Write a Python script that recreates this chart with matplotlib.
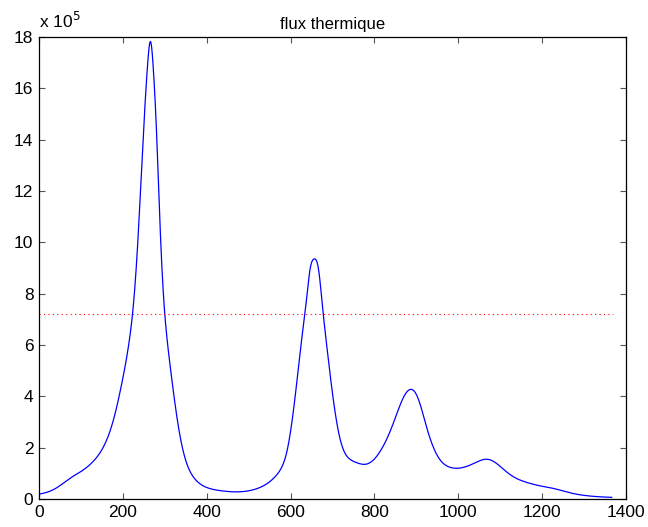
import numpy as np
import matplotlib
matplotlib.use("Agg")
import matplotlib.pyplot as plt

plt.rcParams['font.family'] = ['Liberation Sans', 'DejaVu Sans']

# Blue curve: "flux thermique" (x, value in units of 1e5)
flux_x = [0, 48, 95, 151, 191, 223, 242, 258, 266, 274, 282, 300, 322, 342, 374, 405,
          440, 477, 527, 559, 583, 598, 610, 622, 634, 646, 656, 668, 678, 694, 710,
          730, 757, 781, 813, 845, 861, 886, 912, 940, 964, 1000, 1028, 1068, 1091,
          1115, 1139, 1171, 1199, 1235, 1267, 1306, 1366]
flux_y = [0.19, 0.50, 1.02, 1.95, 4.0, 7.2, 12.0, 16.7, 17.82, 16.4, 13.6, 7.2, 4.0,
          2.0, 0.74, 0.42, 0.31, 0.28, 0.45, 0.80, 1.39, 2.43, 3.86, 5.6, 7.2, 8.9,
          9.35, 8.8, 7.2, 4.9, 3.0, 1.78, 1.42, 1.36, 1.84, 2.95, 3.65, 4.27, 3.53,
          2.04, 1.39, 1.20, 1.32, 1.55, 1.39, 1.06, 0.80, 0.61, 0.50, 0.38, 0.24,
          0.13, 0.065]

# Red dotted threshold line
threshold_x = [0, 1370]
threshold_y = [7.2, 7.2]

scale = 1e5
xticks = [0, 200, 400, 600, 800, 1000, 1200, 1400]
yticks = [0, 2, 4, 6, 8, 10, 12, 14, 16, 18]


def natural_spline(x, y, xn):
    x = np.asarray(x, float); y = np.asarray(y, float)
    n = len(x); h = np.diff(x)
    A = np.zeros((n, n)); b = np.zeros(n)
    A[0, 0] = A[-1, -1] = 1
    for i in range(1, n - 1):
        A[i, i - 1] = h[i - 1]; A[i, i] = 2 * (h[i - 1] + h[i]); A[i, i + 1] = h[i]
        b[i] = 3 * ((y[i + 1] - y[i]) / h[i] - (y[i] - y[i - 1]) / h[i - 1])
    c = np.linalg.solve(A, b)
    bb = (y[1:] - y[:-1]) / h - h * (2 * c[:-1] + c[1:]) / 3
    d = (c[1:] - c[:-1]) / (3 * h)
    idx = np.clip(np.searchsorted(x, xn) - 1, 0, n - 2)
    t = xn - x[idx]
    return y[idx] + bb[idx] * t + c[idx] * t**2 + d[idx] * t**3


# interpolate smoothly between the read points (in reciprocal space, which suits peaked curves)
xs = np.linspace(flux_x[0], flux_x[-1], 2000)
ys = 1.0 / natural_spline(flux_x, 1.0 / np.asarray(flux_y), xs)

fig = plt.figure(figsize=(6.48, 5.27), dpi=100)
ax = fig.add_axes([0.0602, 0.0531, 0.9058, 0.8767])
ax.plot(xs, ys * scale, color='#0000ff', lw=0.9)
ax.plot(threshold_x, np.array(threshold_y) * scale, color='#ff0000', lw=0.8, ls=(0, (1, 3)))

ax.set_xlim(0, 1400)
ax.set_ylim(0, 18 * scale)
ax.set_xticks(xticks)
ax.set_xticklabels([str(t) for t in xticks])
ax.set_yticks([t * scale for t in yticks])
ax.set_yticklabels([str(t) for t in yticks])
ax.tick_params(direction='in', length=4, width=0.8, top=True, right=True,
               labelsize=12.5, color='#555555', pad=4)
for s in ax.spines.values():
    s.set_linewidth(0.9)
ax.set_title('flux thermique', fontsize=12, pad=6)
ax.text(0.0, 1.012, r'x 10$^{5}$', transform=ax.transAxes, fontsize=12.5,
        ha='left', va='bottom')

fig.savefig('out.png', dpi=100)
